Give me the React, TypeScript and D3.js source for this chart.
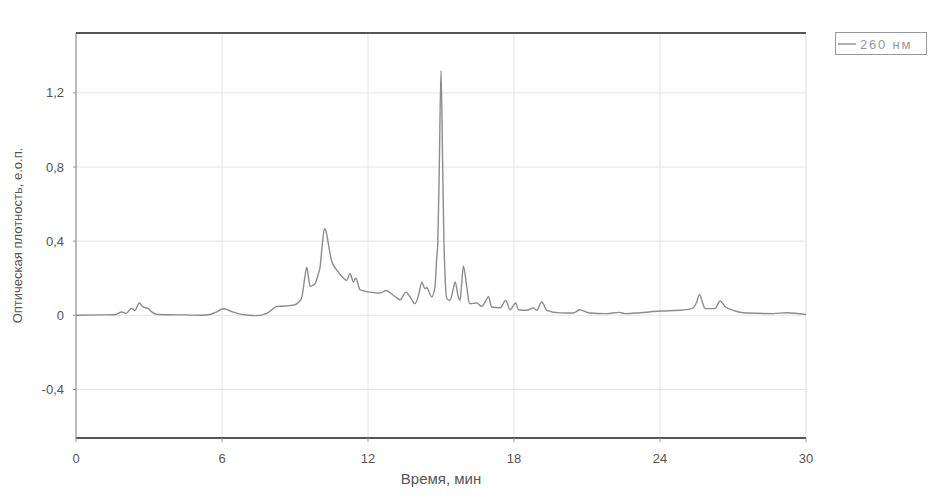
import * as d3 from "d3";

const TIME = [
  0, 1.0, 1.6, 1.88, 2.05, 2.29, 2.42, 2.6, 2.75, 2.96, 3.1, 3.3, 3.8, 4.5, 5.2, 5.5, 5.78, 6.04, 6.3,
  6.45, 6.74, 7.1, 7.42, 7.84, 8.05, 8.25, 8.6, 8.93, 9.15, 9.28, 9.4, 9.48, 9.56, 9.62, 9.82, 9.95,
  10.03, 10.12, 10.21, 10.3, 10.37, 10.5, 10.78, 11.0, 11.12, 11.26, 11.4, 11.5, 11.67, 12.08, 12.5,
  12.74, 13.04, 13.32, 13.56, 13.73, 13.93, 14.1, 14.21, 14.34, 14.41, 14.62, 14.75, 14.82, 14.87,
  14.93, 15.0, 15.07, 15.12, 15.17, 15.24, 15.37, 15.5, 15.58, 15.71, 15.78, 15.85, 15.92, 16.06,
  16.17, 16.47, 16.67, 16.85, 16.95, 17.08, 17.43, 17.66, 17.84, 18.07, 18.18, 18.52, 18.8, 18.93,
  19.14, 19.35, 19.9, 20.44, 20.7, 21.05, 21.8, 22.33, 22.56, 23.18, 24.0, 24.82, 25.3, 25.51, 25.62,
  25.76, 25.85, 26.26, 26.47, 26.67, 27.09, 27.56, 28.66, 29.2, 30,
];

const ABSORBANCE = [
  0, 0.002, 0.003, 0.018, 0.01, 0.037, 0.025, 0.066, 0.045, 0.037, 0.02, 0.006, 0.003, 0.002, 0.0,
  0.004, 0.018, 0.035, 0.026, 0.018, 0.006, 0.0, -0.002, 0.01, 0.03, 0.048, 0.05, 0.054, 0.07, 0.099,
  0.2, 0.26, 0.2, 0.156, 0.17, 0.22, 0.26, 0.38, 0.467, 0.44, 0.386, 0.296, 0.233, 0.2, 0.188, 0.224,
  0.18, 0.2, 0.138, 0.125, 0.12, 0.134, 0.108, 0.084, 0.125, 0.099, 0.063, 0.12, 0.179, 0.144, 0.149,
  0.099, 0.152, 0.3, 0.4, 0.8, 1.32, 0.8, 0.4, 0.2, 0.09, 0.08, 0.14, 0.18, 0.1, 0.08, 0.17, 0.265,
  0.152, 0.063, 0.066, 0.048, 0.08, 0.102, 0.045, 0.041, 0.08, 0.03, 0.066, 0.03, 0.027, 0.04, 0.027,
  0.072, 0.027, 0.013, 0.012, 0.03, 0.014, 0.009, 0.016, 0.009, 0.014, 0.023, 0.027, 0.036, 0.072,
  0.113, 0.063, 0.036, 0.036, 0.077, 0.048, 0.023, 0.012, 0.009, 0.014, 0.004,
];

const X_TICKS = [0, 6, 12, 18, 24, 30];
const Y_TICKS = [-0.4, 0, 0.4, 0.8, 1.2];
const SERIES_NAME = "260 нм";
const X_TITLE = "Время, мин";
const Y_TITLE = "Оптическая плотность, е.о.п.";

const W = 949;
const H = 503;
const PLOT = { left: 76, right: 806, top: 33, bottom: 438 };
const FONT = "'Liberation Sans', Arial, sans-serif";
const TEXT_COLOR = "#555";
const GRID_COLOR = "#e4e4e4";
const LINE_COLOR = "#8c8c8c";

export default function App() {
  const x = d3.scaleLinear().domain([0, 30]).range([PLOT.left, PLOT.right]);
  const y = d3.scaleLinear().domain([-0.662, 1.523]).range([PLOT.bottom, PLOT.top]);

  const line = d3
    .line<number>()
    .x((_, i) => x(TIME[i]))
    .y((d) => y(d))
    .curve(d3.curveMonotoneX);

  // comma decimals, plain hyphen for minus
  const fmt = (v: number) =>
    v === 0 ? "0" : d3.format(".1f")(v).replace(".", ",").replace("\u2212", "-");

  return (
    <svg
      width={W}
      height={H}
      style={{ position: "absolute", left: 0, top: 0, background: "#fff" }}
      xmlns="http://www.w3.org/2000/svg"
    >
      {/* grid */}
      {Y_TICKS.map((t) => (
        <line key={"gy" + t} x1={PLOT.left} x2={PLOT.right} y1={y(t)} y2={y(t)} stroke={GRID_COLOR} />
      ))}
      {X_TICKS.slice(1, -1).map((t) => (
        <line key={"gx" + t} x1={x(t)} x2={x(t)} y1={PLOT.top} y2={PLOT.bottom} stroke={GRID_COLOR} />
      ))}
      <line x1={PLOT.right} x2={PLOT.right} y1={PLOT.top} y2={PLOT.bottom} stroke="#ddd" />

      {/* frame */}
      <line x1={PLOT.left} x2={PLOT.left} y1={PLOT.top} y2={PLOT.bottom} stroke="#777" />
      <line x1={PLOT.left} x2={PLOT.right} y1={PLOT.top} y2={PLOT.top} stroke="#555" strokeWidth={2} />
      <line x1={PLOT.left} x2={PLOT.right} y1={PLOT.bottom} y2={PLOT.bottom} stroke="#555" strokeWidth={2} />

      {/* y axis */}
      {Y_TICKS.map((t) => (
        <g key={"ty" + t}>
          <line x1={PLOT.left - 3} x2={PLOT.left} y1={y(t)} y2={y(t)} stroke="#999" />
          <text
            x={PLOT.left - 12}
            y={y(t)}
            dy="0.35em"
            textAnchor="end"
            fontSize={13}
            fontFamily={FONT}
            fill={TEXT_COLOR}
          >
            {fmt(t)}
          </text>
        </g>
      ))}
      <text
        transform={`translate(22,${(PLOT.top + PLOT.bottom) / 2}) rotate(-90)`}
        textAnchor="middle"
        fontSize={13}
        fontFamily={FONT}
        fill={TEXT_COLOR}
      >
        {Y_TITLE}
      </text>

      {/* x axis */}
      {X_TICKS.map((t) => (
        <g key={"tx" + t}>
          <line x1={x(t)} x2={x(t)} y1={PLOT.bottom} y2={PLOT.bottom + 4} stroke="#999" />
          <text
            x={x(t)}
            y={PLOT.bottom + 25}
            textAnchor="middle"
            fontSize={13}
            fontFamily={FONT}
            fill={TEXT_COLOR}
          >
            {t}
          </text>
        </g>
      ))}
      <text
        x={(PLOT.left + PLOT.right) / 2}
        y={PLOT.bottom + 46}
        textAnchor="middle"
        fontSize={15}
        fontFamily={FONT}
        fill={TEXT_COLOR}
      >
        {X_TITLE}
      </text>

      {/* series */}
      <path d={line(ABSORBANCE) ?? undefined} fill="none" stroke={LINE_COLOR} strokeWidth={1.4} />

      {/* legend */}
      <rect x={835.5} y={32.5} width={91} height={22} fill="#fff" stroke="#999" />
      <line x1={838} x2={856} y1={44} y2={44} stroke={LINE_COLOR} strokeWidth={1.4} />
      <text x={860} y={48.5} fontSize={13} letterSpacing={1.8} fontFamily={FONT} fill="#999">
        {SERIES_NAME}
      </text>
    </svg>
  );
}
